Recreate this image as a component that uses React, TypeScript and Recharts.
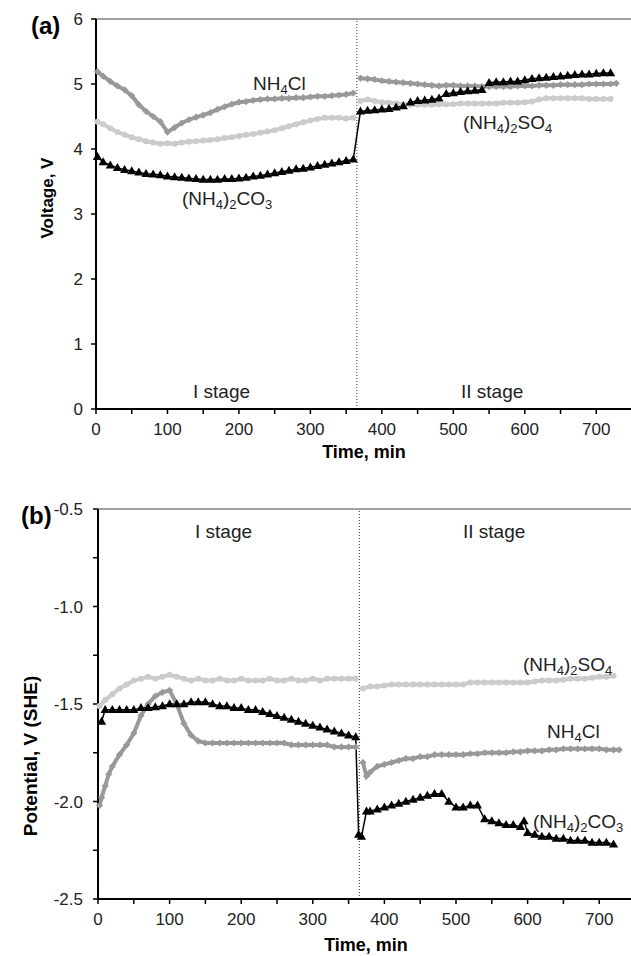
import React from 'react';
import { ComposedChart, Line, XAxis, YAxis, ReferenceLine } from 'recharts';

const FONT = '"Liberation Sans", Arial, Helvetica, sans-serif';

const CL_GRAY = '#999999';
const SO4_GRAY = '#cbcbcb';

// time grids, min
const T1 = [2, 10, 20, 30, 40, 50, 60, 70, 80, 90, 100, 110, 120, 130, 140, 150, 160, 170, 180, 190, 200, 210, 220, 230, 240, 250, 260, 270, 280, 290, 300, 310, 320, 330, 340, 350, 360];
const T2 = [370, 380, 390, 400, 410, 420, 430, 440, 450, 460, 470, 480, 490, 500, 510, 520, 530, 540, 550, 560, 570, 580, 590, 600, 610, 620, 630, 640, 650, 660, 670, 680, 690, 700, 710, 720];
const T2_END = [...T2, 728];

const X_TICKS = [0, 50, 100, 150, 200, 250, 300, 350, 400, 450, 500, 550, 600, 650, 700, 750];
const VOLT_TICKS = [0, 1, 2, 3, 4, 5, 6];
const POT_TICKS = [-2.5, -2.25, -2.0, -1.75, -1.5, -1.25, -1.0, -0.75, -0.5];

// (a) cell voltage, V
const A_CL_1 = [5.19, 5.12, 5.04, 4.97, 4.91, 4.82, 4.68, 4.58, 4.5, 4.42, 4.26, 4.33, 4.4, 4.45, 4.49, 4.52, 4.56, 4.61, 4.65, 4.69, 4.72, 4.73, 4.75, 4.76, 4.77, 4.77, 4.78, 4.78, 4.79, 4.79, 4.8, 4.81, 4.81, 4.82, 4.83, 4.84, 4.86];
const A_CL_2 = [5.09, 5.08, 5.07, 5.05, 5.04, 5.03, 5.02, 5.01, 5.0, 4.99, 4.98, 4.97, 4.98, 4.98, 4.97, 4.97, 4.97, 4.96, 4.96, 4.96, 4.96, 4.96, 4.97, 4.97, 4.97, 4.98, 4.98, 4.98, 4.99, 4.99, 4.99, 4.99, 5.0, 5.0, 5.0, 5.0, 5.01];
const A_SO4_1 = [4.42, 4.38, 4.32, 4.26, 4.22, 4.18, 4.15, 4.12, 4.1, 4.08, 4.09, 4.08, 4.1, 4.11, 4.12, 4.13, 4.14, 4.15, 4.17, 4.18, 4.2, 4.22, 4.23, 4.25, 4.27, 4.29, 4.32, 4.35, 4.38, 4.41, 4.44, 4.46, 4.48, 4.48, 4.48, 4.47, 4.48];
const A_SO4_2 = [4.74, 4.76, 4.74, 4.72, 4.71, 4.7, 4.69, 4.68, 4.68, 4.68, 4.68, 4.69, 4.69, 4.69, 4.7, 4.7, 4.7, 4.7, 4.7, 4.7, 4.71, 4.71, 4.71, 4.72, 4.73, 4.76, 4.78, 4.78, 4.78, 4.78, 4.78, 4.78, 4.77, 4.77, 4.77, 4.77];
const A_CO3_1 = [3.88, 3.8, 3.75, 3.71, 3.68, 3.66, 3.64, 3.62, 3.61, 3.6, 3.58, 3.57, 3.56, 3.55, 3.54, 3.53, 3.53, 3.53, 3.54, 3.54, 3.55, 3.56, 3.58, 3.59, 3.61, 3.63, 3.65, 3.67, 3.69, 3.7, 3.72, 3.74, 3.76, 3.78, 3.8, 3.82, 3.84];
const A_CO3_2 = [4.58, 4.59, 4.6, 4.61, 4.62, 4.64, 4.66, 4.72, 4.74, 4.75, 4.76, 4.78, 4.85, 4.86, 4.88, 4.89, 4.9, 4.91, 5.02, 5.03, 5.03, 5.04, 5.04, 5.06, 5.08, 5.09, 5.1, 5.11, 5.12, 5.13, 5.14, 5.15, 5.15, 5.16, 5.17, 5.17];

// (b) electrode potential, V (SHE)
const B_SO4_1 = [-1.51, -1.48, -1.45, -1.42, -1.4, -1.38, -1.37, -1.36, -1.37, -1.36, -1.35, -1.36, -1.37, -1.38, -1.37, -1.38, -1.38, -1.37, -1.38, -1.38, -1.37, -1.38, -1.38, -1.38, -1.37, -1.38, -1.38, -1.37, -1.38, -1.38, -1.37, -1.38, -1.37, -1.37, -1.37, -1.37, -1.37];
const B_SO4_2 = [-1.42, -1.41, -1.41, -1.405, -1.4, -1.4, -1.4, -1.4, -1.4, -1.4, -1.4, -1.4, -1.4, -1.4, -1.4, -1.39, -1.39, -1.39, -1.39, -1.39, -1.39, -1.39, -1.39, -1.39, -1.385, -1.38, -1.38, -1.38, -1.375, -1.37, -1.37, -1.37, -1.365, -1.36, -1.36, -1.355];

const B_CL_T1 = [2, 5, 10, 15, 20, 30, 40, 50, 60, 70, 80, 90, 100, 110, 120, 130, 140, 150, 160, 170, 180, 190, 200, 210, 220, 230, 240, 250, 260, 270, 280, 290, 300, 310, 320, 330, 340, 350, 360];
const B_CL_1 = [-2.02, -1.98, -1.92, -1.86, -1.82, -1.76, -1.71, -1.65, -1.56, -1.5, -1.46, -1.44, -1.43, -1.5, -1.6, -1.66, -1.69, -1.7, -1.7, -1.7, -1.7, -1.7, -1.7, -1.7, -1.7, -1.7, -1.7, -1.7, -1.7, -1.71, -1.71, -1.71, -1.71, -1.71, -1.71, -1.72, -1.72, -1.72, -1.72];
const B_CL_T2 = [370, 375, 380, 390, 400, 410, 420, 430, 440, 450, 460, 470, 480, 490, 500, 510, 520, 530, 540, 550, 560, 570, 580, 590, 600, 610, 620, 630, 640, 650, 660, 670, 680, 690, 700, 710, 720, 728];
const B_CL_2 = [-1.8, -1.87, -1.85, -1.82, -1.81, -1.8, -1.79, -1.78, -1.78, -1.77, -1.77, -1.76, -1.76, -1.76, -1.76, -1.76, -1.755, -1.755, -1.75, -1.75, -1.75, -1.75, -1.745, -1.745, -1.74, -1.74, -1.74, -1.735, -1.735, -1.73, -1.73, -1.73, -1.73, -1.73, -1.73, -1.735, -1.735, -1.735];

const B_CO3_T = [5, 10, 20, 30, 40, 50, 60, 70, 80, 90, 100, 110, 120, 130, 140, 150, 160, 170, 180, 190, 200, 210, 220, 230, 240, 250, 260, 270, 280, 290, 300, 310, 320, 330, 340, 350, 360,
  364, 368, 375, 380, 390, 400, 410, 420, 430, 440, 450, 460, 470, 480, 490, 500, 510, 520, 530, 540, 550, 560, 570, 580, 590, 595, 600, 610, 620, 630, 640, 650, 660, 670, 680, 690, 700, 710, 720];
const B_CO3 = [-1.59, -1.53, -1.53, -1.53, -1.53, -1.53, -1.52, -1.52, -1.515, -1.51, -1.5, -1.5, -1.5, -1.49, -1.49, -1.49, -1.5, -1.51, -1.51, -1.52, -1.52, -1.53, -1.53, -1.54, -1.55, -1.56, -1.57, -1.58, -1.59, -1.6, -1.61, -1.62, -1.63, -1.64, -1.65, -1.66, -1.67,
  -2.17, -2.18, -2.05, -2.05, -2.04, -2.03, -2.02, -2.01, -2.0, -1.99, -1.98, -1.97, -1.96, -1.96, -2.0, -2.03, -2.03, -2.02, -2.02, -2.09, -2.1, -2.11, -2.12, -2.12, -2.13, -2.1, -2.16, -2.17, -2.18, -2.18, -2.19, -2.19, -2.2, -2.2, -2.2, -2.21, -2.21, -2.21, -2.22];

const pts = (ts: number[], vs: number[]) => ts.map((t, i) => ({ t, v: vs[i] }));

const diamond = (p: any) => {
  const { cx, cy, index } = p;
  if (cx == null || cy == null) return <g key={index} />;
  return <path key={index} d={`M${cx},${cy - 3.6}L${cx + 3.6},${cy}L${cx},${cy + 3.6}L${cx - 3.6},${cy}Z`} fill={CL_GRAY} />;
};
const circle = (p: any) => {
  const { cx, cy, index } = p;
  if (cx == null || cy == null) return <g key={index} />;
  return <circle key={index} cx={cx} cy={cy} r={3} fill={SO4_GRAY} />;
};
const triangle = (p: any) => {
  const { cx, cy, index } = p;
  if (cx == null || cy == null) return <g key={index} />;
  return <path key={index} d={`M${cx},${cy - 4.8}L${cx + 4.6},${cy + 3.2}L${cx - 4.6},${cy + 3.2}Z`} fill="#000" />;
};

const TimeTick = (p: any) => {
  const v = p.payload.value;
  if (v % 100 !== 0) return <g />;
  return (
    <text x={p.x} y={p.y + 21} textAnchor="middle" fontSize={17} fontFamily={FONT} fill="#222">{v}</text>
  );
};
const VoltTick = (p: any) => (
  <text x={p.x} y={p.y + 6} textAnchor="end" fontSize={17} fontFamily={FONT} fill="#222">{p.payload.value}</text>
);
const PotTick = (p: any) => {
  const v = p.payload.value;
  if (Math.abs(v * 2 - Math.round(v * 2)) > 1e-6) return <g />;
  return <text x={p.x} y={p.y + 6} textAnchor="end" fontSize={17} fontFamily={FONT} fill="#222">{v.toFixed(1)}</text>;
};

function Chem({ x, y, parts }: { x: number; y: number; parts: string[] }) {
  return (
    <text x={x} y={y} fontSize={19} fontFamily={FONT} fill="#222">
      {parts.map((s, i) =>
        i % 2 ? <tspan key={i} fontSize={13} dy={4}>{s}</tspan> : <tspan key={i} dy={i ? -4 : 0}>{s}</tspan>
      )}
    </text>
  );
}

const axisLine = { stroke: '#000', strokeWidth: 2 };
const tickLine = { stroke: '#000', strokeWidth: 1.5 };

export default function App() {
  return (
    <div style={{ position: 'absolute', left: 0, top: 0, width: 631, height: 956, overflow: 'hidden', background: '#fff' }}>
      <div style={{ position: 'absolute', left: 0, top: 0 }}>
        <ComposedChart width={632} height={480} margin={{ top: 19, right: 0, bottom: 0, left: 36 }}>
          <XAxis type="number" dataKey="t" domain={[0, 750]} ticks={X_TICKS} interval={0} height={71}
            axisLine={axisLine} tickLine={tickLine} tickSize={5} tickMargin={0} tick={<TimeTick />} />
          <YAxis type="number" domain={[0, 6]} ticks={VOLT_TICKS} interval={0} width={60}
            axisLine={axisLine} tickLine={tickLine} tickSize={5} tickMargin={8} tick={<VoltTick />} />
          <ReferenceLine y={6} stroke="#444" strokeWidth={1.2} />
          <ReferenceLine x={365} stroke="#333" strokeWidth={1} strokeDasharray="1 2" />
          <Line data={pts(T1, A_SO4_1)} dataKey="v" stroke={SO4_GRAY} strokeWidth={4} dot={circle} activeDot={false} isAnimationActive={false} />
          <Line data={pts(T2, A_SO4_2)} dataKey="v" stroke={SO4_GRAY} strokeWidth={4} dot={circle} activeDot={false} isAnimationActive={false} />
          <Line data={pts(T1, A_CL_1)} dataKey="v" stroke={CL_GRAY} strokeWidth={4} dot={diamond} activeDot={false} isAnimationActive={false} />
          <Line data={pts(T2_END, A_CL_2)} dataKey="v" stroke={CL_GRAY} strokeWidth={4} dot={diamond} activeDot={false} isAnimationActive={false} />
          <Line data={pts([...T1, ...T2], [...A_CO3_1, ...A_CO3_2])} dataKey="v" stroke="#000" strokeWidth={1.5} dot={triangle} activeDot={false} isAnimationActive={false} />
        </ComposedChart>
      </div>
      <div style={{ position: 'absolute', left: 0, top: 490 }}>
        <ComposedChart width={636} height={466} margin={{ top: 19, right: 1, bottom: 0, left: 38 }}>
          <XAxis type="number" dataKey="t" domain={[0, 750]} ticks={X_TICKS} interval={0} height={57}
            axisLine={axisLine} tickLine={tickLine} tickSize={5} tickMargin={0} tick={<TimeTick />} />
          <YAxis type="number" domain={[-2.5, -0.5]} ticks={POT_TICKS} interval={0} width={60}
            axisLine={axisLine} tickLine={tickLine} tickSize={5} tickMargin={10} tick={<PotTick />} />
          <ReferenceLine y={-0.5} stroke="#444" strokeWidth={1.2} />
          <ReferenceLine x={365} stroke="#333" strokeWidth={1} strokeDasharray="1 2" />
          <Line data={pts(T1, B_SO4_1)} dataKey="v" stroke={SO4_GRAY} strokeWidth={4} dot={circle} activeDot={false} isAnimationActive={false} />
          <Line data={pts(T2, B_SO4_2)} dataKey="v" stroke={SO4_GRAY} strokeWidth={4} dot={circle} activeDot={false} isAnimationActive={false} />
          <Line data={pts(B_CL_T1, B_CL_1)} dataKey="v" stroke={CL_GRAY} strokeWidth={4} dot={diamond} activeDot={false} isAnimationActive={false} />
          <Line data={pts(B_CL_T2, B_CL_2)} dataKey="v" stroke={CL_GRAY} strokeWidth={4} dot={diamond} activeDot={false} isAnimationActive={false} />
          <Line data={pts(B_CO3_T, B_CO3)} dataKey="v" stroke="#000" strokeWidth={1.5} dot={triangle} activeDot={false} isAnimationActive={false} />
        </ComposedChart>
      </div>
      <svg width={631} height={956} style={{ position: 'absolute', left: 0, top: 0, pointerEvents: 'none' }}>
        <g fontFamily={FONT} fill="#222">
          <text x={31} y={34} fontSize={24} fontWeight="bold" fill="#000">(a)</text>
          <text transform="translate(53,198) rotate(-90)" textAnchor="middle" fontSize={17} fontWeight="bold" fill="#000">Voltage, V</text>
          <text x={364} y={458} textAnchor="middle" fontSize={18} fontWeight="bold" fill="#000">Time, min</text>
          <text x={193} y={398} fontSize={19}>I stage</text>
          <text x={461} y={398} fontSize={19}>II stage</text>

          <text x={21} y={524} fontSize={24} fontWeight="bold" fill="#000">(b)</text>
          <text transform="translate(37,756) rotate(-90)" textAnchor="middle" fontSize={19} fontWeight="bold" fill="#000">Potential, V (SHE)</text>
          <text x={366} y={951} textAnchor="middle" fontSize={18} fontWeight="bold" fill="#000">Time, min</text>
          <text x={195} y={538} fontSize={19}>I stage</text>
          <text x={463} y={538} fontSize={19}>II stage</text>
        </g>
        <Chem x={253} y={90} parts={['NH', '4', 'Cl']} />
        <Chem x={182} y={205} parts={['(NH', '4', ')', '2', 'CO', '3']} />
        <Chem x={463} y={129} parts={['(NH', '4', ')', '2', 'SO', '4']} />
        <Chem x={523} y={671} parts={['(NH', '4', ')', '2', 'SO', '4']} />
        <Chem x={547} y={738} parts={['NH', '4', 'Cl']} />
        <Chem x={533} y={828} parts={['(NH', '4', ')', '2', 'CO', '3']} />
      </svg>
    </div>
  );
}
